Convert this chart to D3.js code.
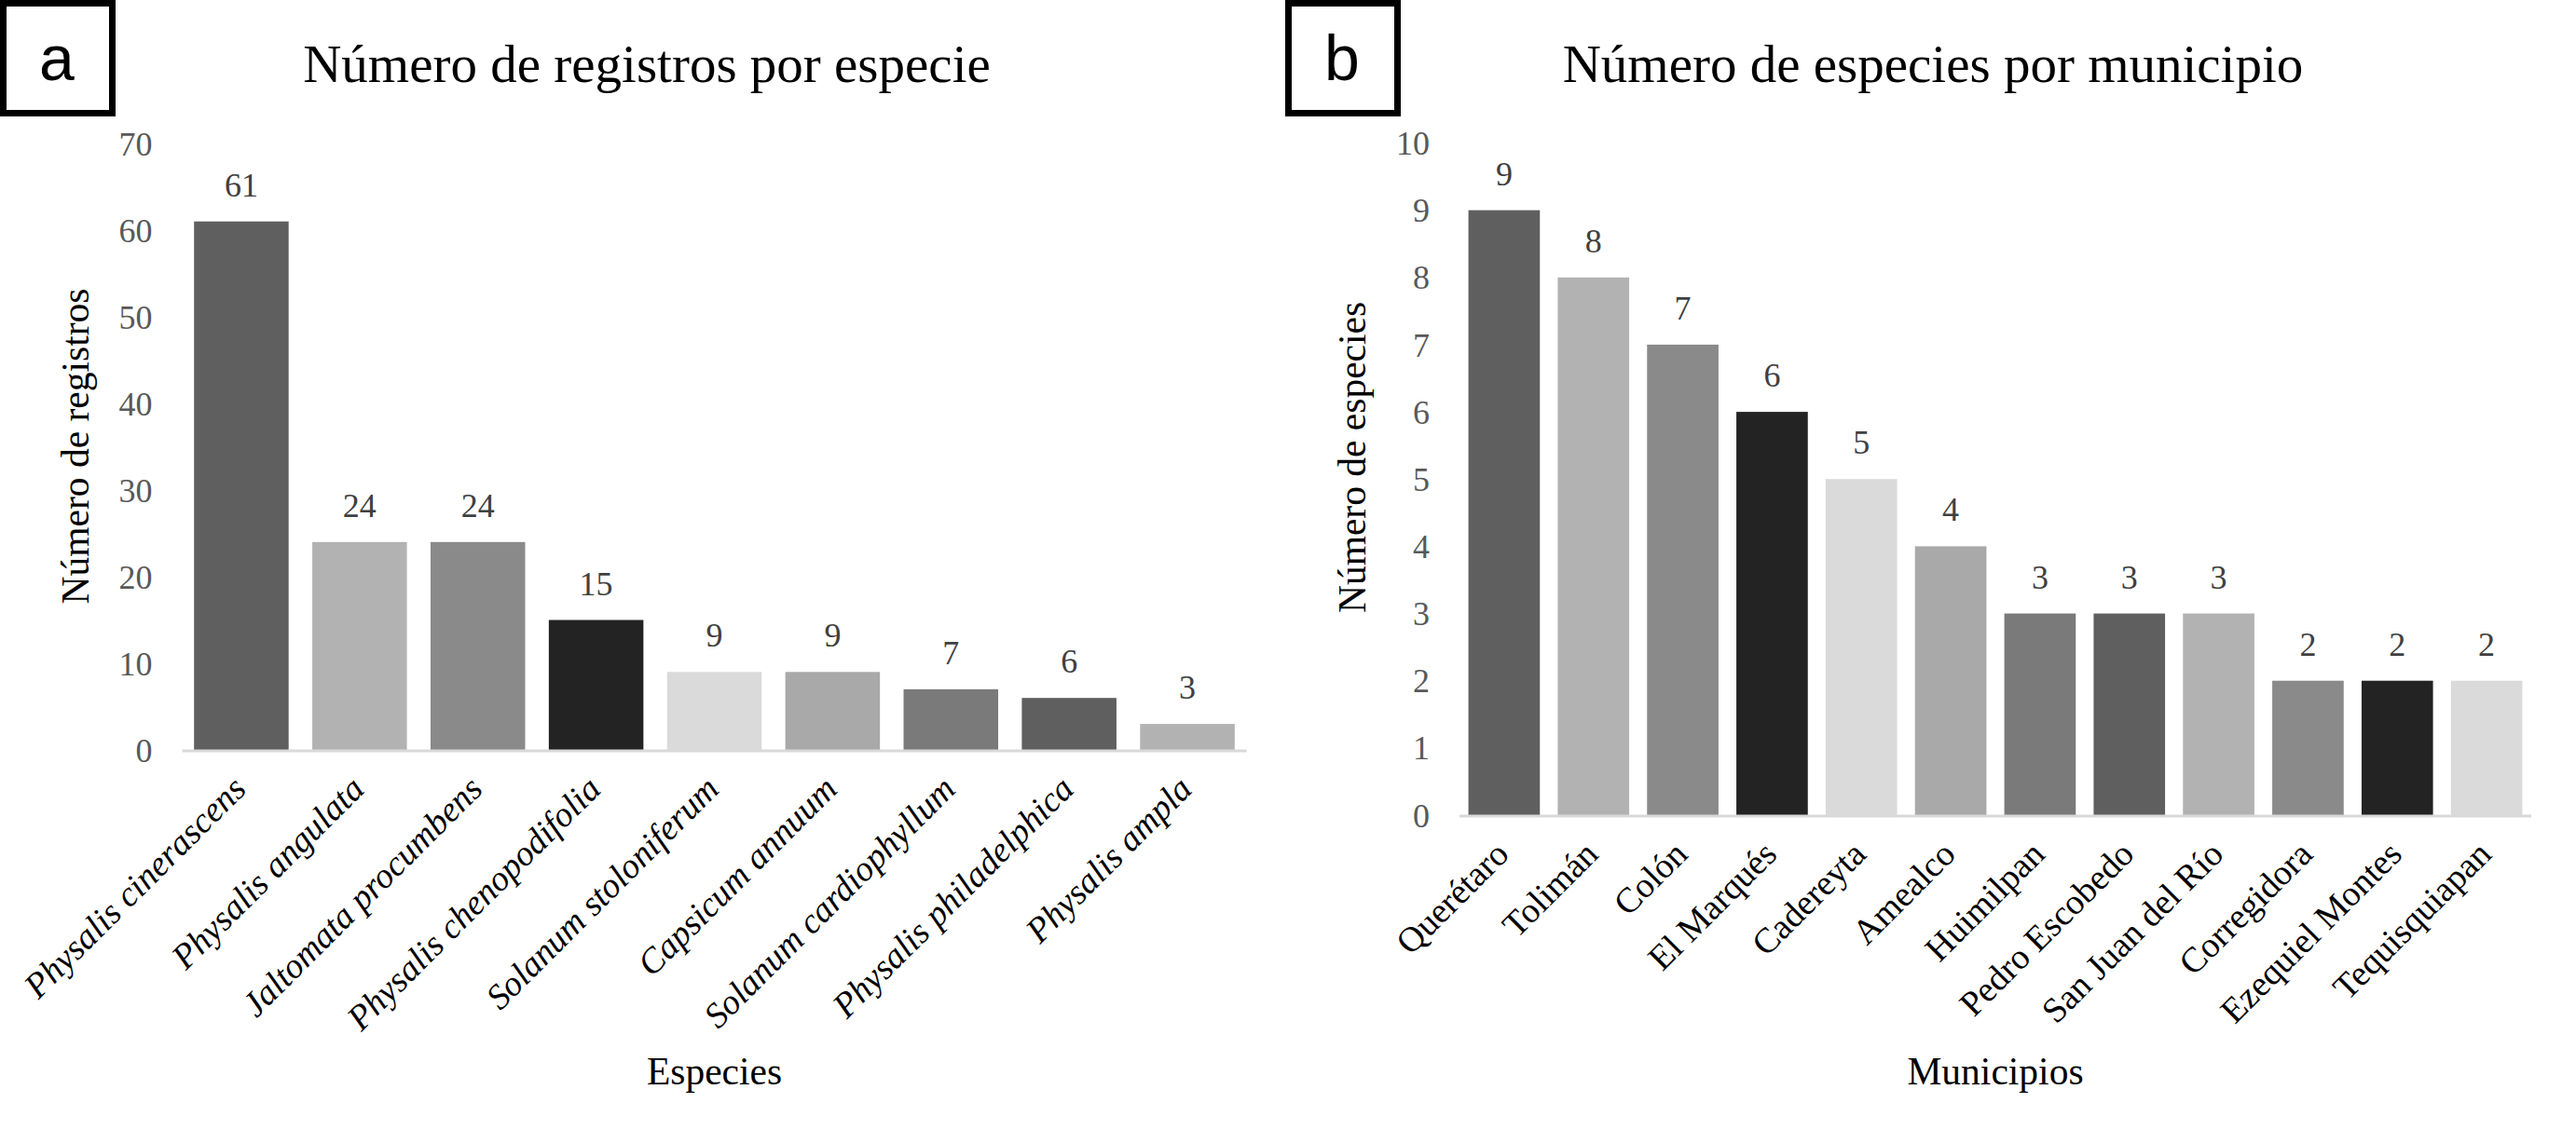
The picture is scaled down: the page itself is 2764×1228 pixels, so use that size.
<!DOCTYPE html>
<html>
<head>
<meta charset="utf-8">
<script src="https://cdn.jsdelivr.net/npm/d3@7"></script>
<style>
  body { margin: 0; background: #fff; }
  text { font-family: "Liberation Serif", "Times New Roman", serif; }
</style>
</head>
<body>
<div id="chart"></div>
<script>
// panel a data
const especies = ["Physalis cinerascens", "Physalis angulata", "Jaltomata procumbens",
  "Physalis chenopodifolia", "Solanum stoloniferum", "Capsicum annuum",
  "Solanum cardiophyllum", "Physalis philadelphica", "Physalis ampla"];
const registros = [61, 24, 24, 15, 9, 9, 7, 6, 3];
const ticksA = [0, 10, 20, 30, 40, 50, 60, 70];

// panel b data
const municipios = ["Querétaro", "Tolimán", "Colón", "El Marqués", "Cadereyta", "Amealco",
  "Huimilpan", "Pedro Escobedo", "San Juan del Río", "Corregidora", "Ezequiel Montes", "Tequisquiapan"];
const nEspecies = [9, 8, 7, 6, 5, 4, 3, 3, 3, 2, 2, 2];
const ticksB = [0, 1, 2, 3, 4, 5, 6, 7, 8, 9, 10];

// grey palette, cycles every 7 bars
const greys = ["#5f5f5f", "#b2b2b2", "#8a8a8a", "#232323", "#dadada", "#a9a9a9", "#7a7a7a"];

const svg = d3.select('#chart')
  .append('svg')
  .attr('width', 2764)
  .attr('height', 1228);

svg.append('rect').attr('width', 2764).attr('height', 1228).attr('fill', '#fff');

function drawPanel(p) {
  const g = svg.append('g');

  const x = d3.scaleBand()
    .domain(p.cats)
    .range([p.x0, p.x1])
    .paddingInner(0.2)
    .paddingOuter(0.1);

  const y = d3.scaleLinear()
    .domain([0, p.max])
    .range([p.y0, p.y1]);

  // letter box
  g.append('rect')
    .attr('x', p.boxX + 3.5).attr('y', 3.5)
    .attr('width', 117).attr('height', 118)
    .attr('fill', 'none').attr('stroke', '#000').attr('stroke-width', 7);
  g.append('text')
    .attr('x', p.boxX + 61).attr('y', 86)
    .attr('text-anchor', 'middle')
    .style('font-family', '"Liberation Sans", Arial, sans-serif')
    .attr('font-size', 68)
    .text(p.letter);

  // title
  g.append('text')
    .attr('x', p.titleX).attr('y', 88)
    .attr('text-anchor', 'middle')
    .attr('font-size', 57)
    .text(p.title);

  // y tick labels (no gridlines)
  g.selectAll('.ytick')
    .data(p.ticks)
    .enter()
    .append('text')
    .attr('x', p.x0 - 32)
    .attr('y', d => y(d))
    .attr('dy', '0.35em')
    .attr('text-anchor', 'end')
    .attr('font-size', 36)
    .attr('fill', '#595959')
    .text(d => d);

  // bars
  g.selectAll('.bar')
    .data(p.vals)
    .enter()
    .append('rect')
    .attr('x', (d, i) => x(p.cats[i]))
    .attr('y', d => y(d))
    .attr('width', x.bandwidth())
    .attr('height', d => p.y0 - y(d))
    .attr('fill', (d, i) => greys[i % greys.length]);

  // x axis line
  g.append('line')
    .attr('x1', p.x0).attr('x2', p.x1)
    .attr('y1', p.y0 + 1).attr('y2', p.y0 + 1)
    .attr('stroke', '#d9d9d9').attr('stroke-width', 3);

  // value labels
  g.selectAll('.val')
    .data(p.vals)
    .enter()
    .append('text')
    .attr('x', (d, i) => x(p.cats[i]) + x.bandwidth() / 2)
    .attr('y', d => y(d) - 27)
    .attr('text-anchor', 'middle')
    .attr('font-size', 36)
    .attr('fill', '#404040')
    .text(d => d);

  // rotated category labels
  g.selectAll('.cat')
    .data(p.cats)
    .enter()
    .append('text')
    .attr('transform', d => `translate(${x(d) + x.bandwidth() / 2 + 7},${p.y0 + 44}) rotate(-45)`)
    .attr('text-anchor', 'end')
    .attr('font-size', 38)
    .style('font-style', p.italic ? 'italic' : 'normal')
    .text(d => d);

  // axis titles
  g.append('text')
    .attr('transform', `translate(${p.yTitleX},${p.yTitleY}) rotate(-90)`)
    .attr('text-anchor', 'middle')
    .attr('font-size', 41.5)
    .text(p.yTitle);

  g.append('text')
    .attr('x', (p.x0 + p.x1) / 2)
    .attr('y', 1164)
    .attr('text-anchor', 'middle')
    .attr('font-size', 41.5)
    .text(p.xTitle);
}

drawPanel({
  cats: especies, vals: registros, ticks: ticksA, max: 70,
  x0: 195.5, x1: 1337.5, y0: 805, y1: 154,
  boxX: 0, letter: 'a', titleX: 694,
  title: 'Número de registros por especie',
  yTitle: 'Número de registros', yTitleX: 95, yTitleY: 479,
  xTitle: 'Especies', italic: true
});

drawPanel({
  cats: municipios, vals: nEspecies, ticks: ticksB, max: 10,
  x0: 1566, x1: 2716, y0: 875, y1: 153.5,
  boxX: 1379, letter: 'b', titleX: 2074,
  title: 'Número de especies por municipio',
  yTitle: 'Número de especies', yTitleX: 1465, yTitleY: 491,
  xTitle: 'Municipios', italic: false
});
</script>
</body>
</html>
